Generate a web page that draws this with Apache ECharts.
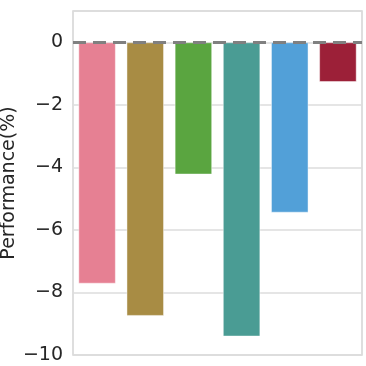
<!DOCTYPE html>
<html>
<head>
<meta charset="utf-8">
<script src="https://cdn.jsdelivr.net/npm/echarts@6/dist/echarts.min.js"></script>
<style>
  html, body { margin: 0; padding: 0; background: #fff; }
  #chart { width: 366px; height: 366px; }
</style>
</head>
<body>
<div id="chart"></div>
<script>
// 数据
const categories = ["A", "B", "C", "D", "E", "F"];
const performance = [-7.72, -8.75, -4.23, -9.41, -5.45, -1.27];
const barColors = ["#E68093", "#A88C44", "#5AA540", "#4A9C94", "#52A0D8", "#9C2038"];
const yTicks = [-10, -8, -6, -4, -2, 0];

const myChart = echarts.init(document.getElementById("chart"));

const option = {
  animation: false,
  grid: {
    left: 73,
    right: 4,
    top: 11,
    bottom: 11,
    containLabel: false,
    outerBoundsMode: "none",
    show: true,
    borderColor: "#d4d4d4",
    borderWidth: 1.5,
  },
  xAxis: {
    type: "category",
    data: categories,
    axisLine: { show: false },
    axisTick: { show: false },
    axisLabel: { show: false },
    splitLine: { show: false },
  },
  yAxis: {
    type: "value",
    min: -10,
    max: 1,
    interval: 2,
    name: "Performance(%)",
    nameLocation: "middle",
    nameGap: 54,
    nameMoveOverlap: false,
    nameTextStyle: {
      fontFamily: "DejaVu Sans",
      fontSize: 19,
      color: "#262626",
    },
    axisLine: { show: false },
    axisTick: { show: false },
    axisLabel: {
      fontFamily: "DejaVu Sans",
      fontSize: 19,
      color: "#262626",
      margin: 10,
      showMaxLabel: false,
      formatter: (v) => (yTicks.indexOf(v) >= 0 ? String(v).replace("-", "\u2212") : ""),
    },
    splitLine: {
      lineStyle: { color: "#dcdcdc", width: 1.5 },
    },
  },
  series: [
    {
      type: "bar",
      barWidth: "78%",
      data: performance.map((v, i) => ({
        value: v,
        itemStyle: { color: barColors[i] },
      })),
      itemStyle: {
        borderColor: "rgba(255,255,255,0.45)",
        borderWidth: 1,
      },
      markLine: {
        silent: true,
        symbol: "none",
        label: { show: false },
        lineStyle: { color: "#808080", width: 3, type: [13, 7] },
        data: [{ yAxis: 0 }],
      },
    },
  ],
};

myChart.setOption(option);
</script>
</body>
</html>
